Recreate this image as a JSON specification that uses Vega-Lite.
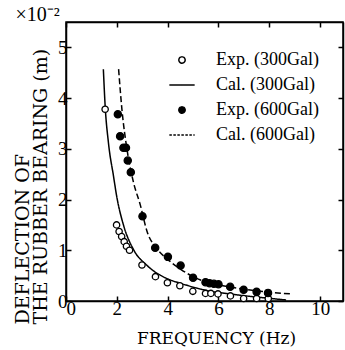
{
  "$schema": "https://vega.github.io/schema/vega-lite/v6.json",
  "autosize": "none",
  "width": 277,
  "height": 279,
  "padding": {"left": 66, "top": 22, "right": 2, "bottom": 49},
  "background": "white",
  "config": {
    "view": {"stroke": "black", "strokeWidth": 1.5},
    "axis": {"domainColor": "black", "domainWidth": 1.5, "tickColor": "black", "tickSize": -5, "tickWidth": 1.5, "labelFont": "Liberation Serif", "labelFontSize": 19, "labelColor": "black", "titleFont": "DejaVu Serif", "titleFontWeight": "normal", "titleColor": "black", "grid": false}
  },
  "datasets": {
    "cal300": [
      {"f": 1.47, "d": 4.57, "series": "Cal. (300Gal)"},
      {"f": 1.54, "d": 3.85, "series": "Cal. (300Gal)"},
      {"f": 1.67, "d": 3.12, "series": "Cal. (300Gal)"},
      {"f": 1.87, "d": 2.46, "series": "Cal. (300Gal)"},
      {"f": 2.0, "d": 2.05, "series": "Cal. (300Gal)"},
      {"f": 2.26, "d": 1.5, "series": "Cal. (300Gal)"},
      {"f": 2.66, "d": 1.01, "series": "Cal. (300Gal)"},
      {"f": 3.19, "d": 0.7, "series": "Cal. (300Gal)"},
      {"f": 3.98, "d": 0.44, "series": "Cal. (300Gal)"},
      {"f": 4.5, "d": 0.35, "series": "Cal. (300Gal)"},
      {"f": 5.43, "d": 0.22, "series": "Cal. (300Gal)"},
      {"f": 6.75, "d": 0.12, "series": "Cal. (300Gal)"},
      {"f": 8.06, "d": 0.05, "series": "Cal. (300Gal)"},
      {"f": 8.66, "d": 0.02, "series": "Cal. (300Gal)"}
    ],
    "cal600": [
      {"f": 2.07, "d": 4.57, "series": "Cal. (600Gal)"},
      {"f": 2.2, "d": 3.78, "series": "Cal. (600Gal)"},
      {"f": 2.4, "d": 2.99, "series": "Cal. (600Gal)"},
      {"f": 2.66, "d": 2.33, "series": "Cal. (600Gal)"},
      {"f": 2.92, "d": 1.9, "series": "Cal. (600Gal)"},
      {"f": 3.19, "d": 1.37, "series": "Cal. (600Gal)"},
      {"f": 3.58, "d": 1.03, "series": "Cal. (600Gal)"},
      {"f": 4.0, "d": 0.82, "series": "Cal. (600Gal)"},
      {"f": 4.5, "d": 0.63, "series": "Cal. (600Gal)"},
      {"f": 5.0, "d": 0.48, "series": "Cal. (600Gal)"},
      {"f": 5.43, "d": 0.39, "series": "Cal. (600Gal)"},
      {"f": 6.0, "d": 0.32, "series": "Cal. (600Gal)"},
      {"f": 6.75, "d": 0.25, "series": "Cal. (600Gal)"},
      {"f": 7.5, "d": 0.2, "series": "Cal. (600Gal)"},
      {"f": 8.06, "d": 0.17, "series": "Cal. (600Gal)"},
      {"f": 8.85, "d": 0.14, "series": "Cal. (600Gal)"}
    ],
    "exp300": [
      {"f": 1.54, "d": 3.78, "series": "Exp. (300Gal)"},
      {"f": 1.99, "d": 1.5, "series": "Exp. (300Gal)"},
      {"f": 2.09, "d": 1.37, "series": "Exp. (300Gal)"},
      {"f": 2.19, "d": 1.27, "series": "Exp. (300Gal)"},
      {"f": 2.29, "d": 1.17, "series": "Exp. (300Gal)"},
      {"f": 2.38, "d": 1.08, "series": "Exp. (300Gal)"},
      {"f": 2.5, "d": 1.0, "series": "Exp. (300Gal)"},
      {"f": 2.99, "d": 0.71, "series": "Exp. (300Gal)"},
      {"f": 3.52, "d": 0.48, "series": "Exp. (300Gal)"},
      {"f": 3.99, "d": 0.36, "series": "Exp. (300Gal)"},
      {"f": 4.48, "d": 0.3, "series": "Exp. (300Gal)"},
      {"f": 4.99, "d": 0.19, "series": "Exp. (300Gal)"},
      {"f": 5.49, "d": 0.15, "series": "Exp. (300Gal)"},
      {"f": 5.7, "d": 0.15, "series": "Exp. (300Gal)"},
      {"f": 5.98, "d": 0.14, "series": "Exp. (300Gal)"},
      {"f": 6.47, "d": 0.1, "series": "Exp. (300Gal)"},
      {"f": 6.99, "d": 0.05, "series": "Exp. (300Gal)"},
      {"f": 7.5, "d": 0.05, "series": "Exp. (300Gal)"},
      {"f": 7.96, "d": 0.05, "series": "Exp. (300Gal)"}
    ],
    "exp600": [
      {"f": 2.04, "d": 3.68, "series": "Exp. (600Gal)"},
      {"f": 2.13, "d": 3.25, "series": "Exp. (600Gal)"},
      {"f": 2.26, "d": 3.02, "series": "Exp. (600Gal)"},
      {"f": 2.36, "d": 3.02, "series": "Exp. (600Gal)"},
      {"f": 2.43, "d": 2.77, "series": "Exp. (600Gal)"},
      {"f": 2.55, "d": 2.54, "series": "Exp. (600Gal)"},
      {"f": 3.01, "d": 1.67, "series": "Exp. (600Gal)"},
      {"f": 3.51, "d": 1.05, "series": "Exp. (600Gal)"},
      {"f": 4.01, "d": 0.87, "series": "Exp. (600Gal)"},
      {"f": 4.51, "d": 0.7, "series": "Exp. (600Gal)"},
      {"f": 5.0, "d": 0.46, "series": "Exp. (600Gal)"},
      {"f": 5.49, "d": 0.37, "series": "Exp. (600Gal)"},
      {"f": 5.65, "d": 0.35, "series": "Exp. (600Gal)"},
      {"f": 5.82, "d": 0.34, "series": "Exp. (600Gal)"},
      {"f": 6.0, "d": 0.33, "series": "Exp. (600Gal)"},
      {"f": 6.46, "d": 0.28, "series": "Exp. (600Gal)"},
      {"f": 6.99, "d": 0.22, "series": "Exp. (600Gal)"},
      {"f": 7.5, "d": 0.18, "series": "Exp. (600Gal)"},
      {"f": 7.95, "d": 0.16, "series": "Exp. (600Gal)"}
    ]
  },
  "resolve": {"scale": {"x": "independent", "y": "independent"}},
  "layer": [
    {
      "data": {"name": "cal300"},
      "mark": {"type": "line", "interpolate": "monotone", "strokeWidth": 1.5},
      "encoding": {
        "x": {"field": "f", "type": "quantitative", "scale": {"domain": [0, 10.9], "nice": false, "zero": false},
          "axis": {"orient": "bottom", "values": [0, 2, 4, 6, 8, 10], "title": "FREQUENCY (Hz)", "titleFontSize": 17, "titleX": 150, "titleY": 42, "titleBaseline": "alphabetic", "titleAlign": "center", "labelPadding": 3}},
        "y": {"field": "d", "type": "quantitative", "scale": {"domain": [0, 5.5], "nice": false, "zero": false},
          "axis": {"orient": "left", "values": [0, 1, 2, 3, 4, 5], "title": ["DEFLECTION OF", "THE RUBBER BEARING (m)"], "titleFontSize": 19, "titleLineHeight": 18, "titleAngle": -90, "titleAlign": "left", "titleBaseline": "alphabetic", "titleX": -38, "titleY": 302, "labelPadding": 4}},
        "stroke": {"field": "series", "type": "nominal",
          "scale": {"domain": ["Exp. (300Gal)", "Cal. (300Gal)", "Exp. (600Gal)", "Cal. (600Gal)"], "range": ["black", "black", "black", "black"]},
          "legend": {"orient": "none", "legendX": 107, "legendY": 29, "title": null, "padding": 0,
            "labelFont": "Liberation Serif", "labelFontSize": 18, "labelColor": "black", "labelLimit": 200,
            "symbolSize": 40, "symbolStrokeWidth": 1.5, "symbolStrokeColor": "black", "rowPadding": 7, "labelOffset": 25}
        },
        "strokeDash": {"field": "series", "type": "nominal",
          "scale": {"domain": ["Exp. (300Gal)", "Cal. (300Gal)", "Exp. (600Gal)", "Cal. (600Gal)"], "range": [[1, 0], [1, 0], [1, 0], [2.5, 1.5]]}}
      }
    },
    {
      "data": {"name": "cal600"},
      "mark": {"type": "line", "interpolate": "monotone", "strokeWidth": 1.5, "strokeDash": [6, 3], "stroke": "black"},
      "encoding": {
        "x": {"field": "f", "type": "quantitative", "scale": {"domain": [0, 10.9], "nice": false, "zero": false}, "axis": {"orient": "top", "values": [0, 2, 4, 6, 8, 10], "labels": false, "title": "×10⁻²", "titleAngle": 0, "titleX": -51, "titleY": -2, "titleAlign": "left", "titleBaseline": "alphabetic", "titleFont": "Liberation Serif", "titleFontSize": 20}},
        "y": {"field": "d", "type": "quantitative", "scale": {"domain": [0, 5.5], "nice": false, "zero": false}, "axis": {"orient": "right", "values": [0, 1, 2, 3, 4, 5], "labels": false, "title": null}}
      }
    },
    {
      "data": {"name": "exp300"},
      "mark": {"type": "point", "strokeWidth": 1.3, "opacity": 1, "size": 40},
      "encoding": {
        "x": {"field": "f", "type": "quantitative", "scale": {"domain": [0, 10.9], "nice": false, "zero": false}, "axis": null},
        "y": {"field": "d", "type": "quantitative", "scale": {"domain": [0, 5.5], "nice": false, "zero": false}, "axis": null},
        "stroke": {"field": "series", "type": "nominal"},
        "fill": {"field": "series", "type": "nominal",
          "scale": {"domain": ["Exp. (300Gal)", "Cal. (300Gal)", "Exp. (600Gal)", "Cal. (600Gal)"], "range": ["white", "transparent", "black", "transparent"]}},
        "shape": {"field": "series", "type": "nominal",
          "scale": {"domain": ["Exp. (300Gal)", "Cal. (300Gal)", "Exp. (600Gal)", "Cal. (600Gal)"], "range": ["circle", "M-4,0H4", "circle", "M-4,0H4"]}}
      }
    },
    {
      "data": {"name": "exp600"},
      "mark": {"type": "point", "strokeWidth": 1.3, "opacity": 1, "size": 52},
      "encoding": {
        "x": {"field": "f", "type": "quantitative", "scale": {"domain": [0, 10.9], "nice": false, "zero": false}, "axis": null},
        "y": {"field": "d", "type": "quantitative", "scale": {"domain": [0, 5.5], "nice": false, "zero": false}, "axis": null},
        "stroke": {"field": "series", "type": "nominal"},
        "fill": {"field": "series", "type": "nominal"},
        "shape": {"field": "series", "type": "nominal"}
      }
    }
  ]
}
